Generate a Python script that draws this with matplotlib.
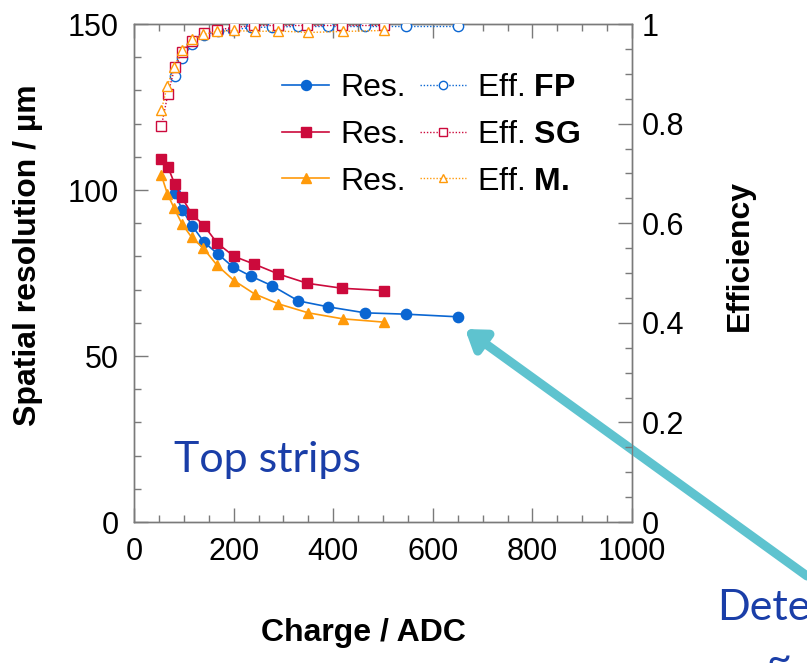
import matplotlib
matplotlib.use("Agg")
import matplotlib.pyplot as plt
from matplotlib.ticker import MultipleLocator
from matplotlib.lines import Line2D

plt.rcParams["font.family"] = ["Liberation Sans", "DejaVu Sans"]
plt.rcParams["mathtext.fontset"] = "custom"
plt.rcParams["mathtext.rm"] = "Liberation Sans"
plt.rcParams["mathtext.bf"] = "Liberation Sans:bold"

# ---- data ----
fp_charge = [82, 97, 117, 141, 168, 198, 234, 278, 330, 390, 464, 546, 651]
fp_res = [99.0, 94.0, 89.2, 84.2, 80.8, 76.9, 74.1, 71.1, 66.6, 64.8, 63.0, 62.6, 61.8]
fp_eff = [0.896, 0.931, 0.959, 0.978, 0.985, 0.988, 0.993, 0.994, 0.995, 0.995, 0.995, 0.995, 0.995]

sg_charge = [55, 68, 82, 96, 116, 141, 167, 201, 241, 290, 348, 418, 502]
sg_res = [109.2, 107.0, 101.7, 97.8, 92.8, 89.2, 84.0, 80.0, 77.7, 74.7, 71.9, 70.4, 69.7]
sg_eff = [0.795, 0.859, 0.913, 0.944, 0.966, 0.981, 0.988, 0.993, 0.997, 0.997, 0.997, 0.997, 0.997]

m_charge = [55, 67, 80, 96, 116, 139, 167, 201, 242, 290, 350, 419, 502]
m_res = [104.4, 98.9, 94.7, 89.9, 85.7, 82.5, 77.3, 72.7, 68.7, 65.7, 63.0, 61.2, 60.2]
m_eff = [0.827, 0.876, 0.913, 0.947, 0.969, 0.979, 0.985, 0.987, 0.985, 0.986, 0.983, 0.985, 0.987]

series = [
    ("FP", fp_charge, fp_res, fp_eff, "#0a66d2", "o"),
    ("SG", sg_charge, sg_res, sg_eff, "#cc0a3c", "s"),
    ("M.", m_charge, m_res, m_eff, "#ff9a0a", "^"),
]

W, H = 807, 671
fig = plt.figure(figsize=(W / 100, H / 100), dpi=100)
ax = fig.add_axes([134 / W, 1 - 522 / H, 498 / W, 498 / H])
ax2 = ax.twinx()

axis_grey = "#7a7a7a"
res_handles, eff_handles = [], []
for name, xs, rs, es, col, mk in series:
    ms = 7.4 if mk == "o" else 7.0
    ax.plot(xs, rs, color=col, lw=1.2, marker=mk, ms=ms, mfc=col, mec=col, zorder=3)
    ax2.plot(xs, es, color=col, lw=1.0, ls=(0, (1, 1.3)), marker=mk, ms=ms,
             mfc="white", mec=col, mew=1.0, zorder=3)
    res_handles.append(Line2D([], [], color=col, lw=1.2, marker=mk, ms=7.2, mfc=col, mec=col))
    eff_handles.append(Line2D([], [], color=col, lw=1.0, ls=(0, (1, 1.3)), marker=mk,
                              ms=6.0, mfc="white", mec=col, mew=1.0))

ax.set_xlim(0, 1000)
ax.set_ylim(0, 150)
ax2.set_ylim(0, 1)

ax.xaxis.set_major_locator(MultipleLocator(200))
ax.xaxis.set_minor_locator(MultipleLocator(50))
ax.yaxis.set_major_locator(MultipleLocator(50))
ax.yaxis.set_minor_locator(MultipleLocator(10))
ax2.yaxis.set_minor_locator(MultipleLocator(0.05))
ax2.set_yticks([0, 0.2, 0.4, 0.6, 0.8, 1.0])
ax2.set_yticklabels(["0", "0.2", "0.4", "0.6", "0.8", "1"])

for a in (ax, ax2):
    for s in a.spines.values():
        s.set_color(axis_grey)
        s.set_linewidth(1.0)
ax.tick_params(axis="both", which="both", direction="in", color=axis_grey,
               labelsize=22, top=True, right=False)
ax.tick_params(axis="both", which="major", length=10, width=1.0)
ax.tick_params(axis="both", which="minor", length=5, width=1.0)
ax.tick_params(axis="x", which="major", pad=11)
ax.tick_params(axis="y", which="major", pad=11)
ax2.tick_params(axis="y", which="both", direction="in", color=axis_grey, labelsize=22, pad=7)
ax2.tick_params(axis="y", which="major", length=10, width=1.0)
ax2.tick_params(axis="y", which="minor", length=5, width=1.0)

ax.set_xlabel("Charge / ADC", fontsize=23, fontweight="bold")
ax.set_ylabel("Spatial resolution / µm", fontsize=23, fontweight="bold")
ax2.set_ylabel("Efficiency", fontsize=23, fontweight="bold")
ax.xaxis.set_label_coords(0.46, -0.193)
ax.yaxis.set_label_coords(-0.183, 0.536)
ax2.yaxis.set_label_coords(1.187, 0.536)

labels = ["Res."] * 3 + [r"Eff. $\mathbf{FP}$", r"Eff. $\mathbf{SG}$", r"Eff. $\mathbf{M.}$"]
leg = ax2.legend(res_handles + eff_handles, labels, ncol=2, frameon=False,
                 fontsize=23, loc="upper left", bbox_to_anchor=(0.298, 0.901),
                 handlelength=1.45, handletextpad=0.35, columnspacing=0.45,
                 labelspacing=0.52, borderaxespad=0, borderpad=0)

ax.text(0.08, 0.1, "Top strips", transform=ax.transAxes, fontsize=31,
        family="Lato", color="#1a3ea8")

fig.text(717 / W, 1 - 620 / H, "Dete", fontsize=31, family="Lato", color="#1a3ea8")
fig.text(766 / W, 1 - 672 / H, "~", fontsize=31, family="Lato", color="#1a3ea8")

ax.annotate("", xy=(465, H - 329), xycoords="figure pixels",
            xytext=(807, H - 576), textcoords="figure pixels",
            arrowprops=dict(arrowstyle="-|>,head_length=1.1,head_width=0.75",
                            color="#5ec3cf", lw=6.5, shrinkA=0, shrinkB=0),
            annotation_clip=False)

fig.savefig("out.png", dpi=100)
